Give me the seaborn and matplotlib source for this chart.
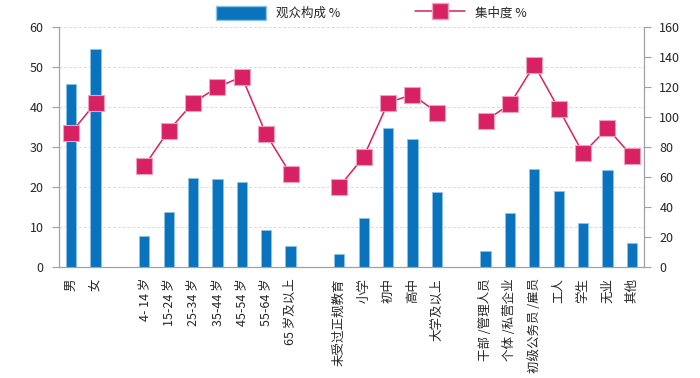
import matplotlib
matplotlib.use("Agg")
import matplotlib.pyplot as plt
import seaborn as sns
import numpy as np
import pandas as pd
from matplotlib.patches import Patch
from matplotlib.lines import Line2D

# categories per group; groups are separated by an empty slot
groups = [
    ["男", "女"],
    ["4- 14 岁", "15-24 岁", "25-34 岁", "35-44 岁", "45-54 岁", "55-64 岁", "65 岁及以上"],
    ["未受过正规教育", "小学", "初中", "高中", "大学及以上"],
    ["干部 /管理人员", "个体 /私营企业", "初级公务员 /雇员", "工人", "学生", "无业", "其他"],
]
# 观众构成 %
share = [
    [45.8, 54.5],
    [7.8, 13.7, 22.3, 22.1, 21.2, 9.3, 5.2],
    [3.3, 12.2, 34.7, 32.1, 18.7],
    [3.9, 13.4, 24.5, 18.9, 10.9, 24.2, 6.0],
]
# 集中度 %
conc = [
    [89.5, 109.5],
    [67.3, 91, 109.5, 119.8, 126.9, 88.4, 62],
    [53.5, 73.5, 109.5, 115, 103],
    [97.5, 108.5, 134.7, 105.5, 75.8, 92.5, 74],
]

sns.set_style("white")
plt.rcParams['font.family'] = ['Noto Sans CJK SC', 'DejaVu Sans']

order = []
rows = []
for g, (labels, s, c) in enumerate(zip(groups, share, conc)):
    if g > 0:
        order.append(" " * g)
    for lab, sv, cv in zip(labels, s, c):
        order.append(lab)
        rows.append({"cat": lab, "share": sv, "conc": cv, "group": g})
df = pd.DataFrame(rows)
df["pos"] = df["cat"].map({k: i for i, k in enumerate(order)})

blue = "#0A73BE"
pink = "#D82162"

fig = plt.figure(figsize=(7, 3.78), dpi=100)
ax = fig.add_axes([59 / 700, 111 / 378, 585 / 700, 240 / 378])

sns.barplot(data=df, x="cat", y="share", order=order, color=blue,
            width=0.42, edgecolor="#8EC3E8", linewidth=0.6, saturation=1, ax=ax)
ax.set_ylim(0, 60)
ax.set_yticks(range(0, 61, 10))
ax.set_xlim(-0.5, len(order) - 0.5)
ax.set_xlabel("")
ax.set_ylabel("")
ax.yaxis.grid(True, linestyle=(0, (3, 2)), color="#DADADA", linewidth=0.7)
ax.set_axisbelow(True)

ax2 = ax.twinx()
sns.lineplot(data=df, x="pos", y="conc", units="group", estimator=None,
             color=pink, linewidth=1.1, marker="s", markersize=11,
             markeredgecolor="#F0A0BE", markeredgewidth=0.8, ax=ax2)
ax2.set_ylim(0, 160)
ax2.set_yticks(range(0, 161, 20))
ax2.set_xlim(-0.5, len(order) - 0.5)
ax2.set_xlabel("")
ax2.set_ylabel("")

for a in (ax, ax2):
    a.spines["top"].set_visible(False)
    for sp in ("left", "right", "bottom"):
        a.spines[sp].set_color("#A0A0A0")
        a.spines[sp].set_linewidth(0.8)
    a.tick_params(axis="y", length=5, color="#A0A0A0", labelsize=9, pad=6)

# x ticks at slot boundaries, labels at slot centres
ax.set_xticks(np.arange(len(order)))
ax.set_xticklabels(order, rotation=90, ha="center", va="top", fontsize=9)
ax.set_xticks(np.arange(-0.5, len(order), 1), minor=True)
ax.tick_params(axis="x", which="major", length=0, pad=8)
ax.tick_params(axis="x", which="minor", length=5, color="#A0A0A0")

handles = [
    Patch(facecolor=blue, edgecolor="#8EC3E8", label="观众构成 %"),
    Line2D([0], [0], color=pink, marker="s", markersize=11, linewidth=1.1,
           markeredgecolor="#F0A0BE", label="集中度 %"),
]
fig.legend(handles=handles, loc="upper center", bbox_to_anchor=(0.53, 1.015),
           ncol=2, frameon=False, fontsize=9, handlelength=4, handleheight=1.4,
           columnspacing=6)

fig.savefig("out.png", dpi=100)
